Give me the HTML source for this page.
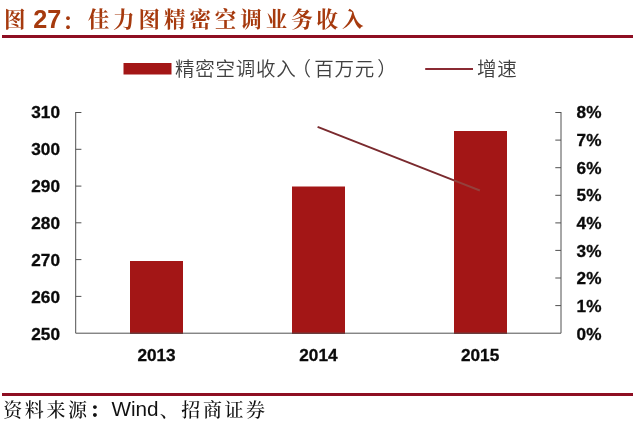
<!DOCTYPE html>
<html lang="zh-CN">
<head>
<meta charset="utf-8">
<title>图 27：佳力图精密空调业务收入</title>
<style>
html,body{margin:0;padding:0;background:#fff;}
body{width:640px;height:421px;position:relative;overflow:hidden;font-family:"Liberation Sans","Noto Sans CJK SC",sans-serif;}
.abs{position:absolute;white-space:nowrap;line-height:1;}
.title{font-family:"Liberation Sans","Noto Serif CJK SC",serif;font-weight:bold;font-size:21.5px;color:#a63a0e;letter-spacing:3.94px;}
.title.n{letter-spacing:0;font-size:25.2px;}
.hr{position:absolute;left:2.2px;width:630.7px;height:2.4px;background:#8e0e22;}
.src{font-family:"Liberation Sans","Noto Serif CJK SC",serif;font-size:19px;letter-spacing:2.6px;color:#111;font-weight:500;}
.src.w{font-size:20.7px;letter-spacing:0;font-weight:400;}
.leg{font-size:19.5px;letter-spacing:0.75px;color:#404040;font-weight:350;}
.yl{-webkit-text-stroke:0.3px #0a0a0a;font-weight:bold;font-size:17.2px;color:#0a0a0a;text-align:right;width:50px;}
.yr{-webkit-text-stroke:0.3px #0a0a0a;font-weight:bold;font-size:17.2px;color:#0a0a0a;}
.xl{-webkit-text-stroke:0.3px #0a0a0a;font-weight:bold;font-size:17.2px;color:#0a0a0a;width:60px;text-align:center;}
svg{position:absolute;left:0;top:0;}
</style>
</head>
<body>
<div class="abs title" style="left:4.1px;top:10px">图</div>
<div class="abs title n" style="left:33.3px;top:7px">27</div>
<div class="abs title" style="left:62.2px;top:10px"><span style="position:relative;top:2px">：</span>佳力图精密空调业务收入</div>
<div class="hr" style="top:35.4px;height:2.2px"></div>

<svg width="640" height="421" viewBox="0 0 640 421">
  <!-- legend -->
  <rect x="123.5" y="63" width="48" height="11.5" fill="#a31616"/>
  <line x1="425.2" y1="68.9" x2="473" y2="68.9" stroke="#8a2a33" stroke-width="2"/>
  <!-- bars -->
  <rect x="130" y="261" width="53" height="73" fill="#a31616"/>
  <rect x="292" y="186.5" width="53" height="147.5" fill="#a31616"/>
  <rect x="454" y="131" width="53" height="203" fill="#a31616"/>
  <!-- axes -->
  <g stroke="#505050" stroke-width="1" fill="none">
    <path d="M75.7 112 V333.2 H561 V112"/>
    <path d="M75.7 112.5H81.4M75.7 149.3H81.4M75.7 186.1H81.4M75.7 222.8H81.4M75.7 259.6H81.4M75.7 296.4H81.4"/>
    <path d="M561 112.5H555.3M561 140.1H555.3M561 167.7H555.3M561 195.3H555.3M561 222.9H555.3M561 250.4H555.3M561 278.0H555.3M561 305.6H555.3"/>
  </g>
  <line x1="317.6" y1="126.9" x2="454" y2="180.35" stroke="#7a2a2e" stroke-width="2"/>
  <line x1="454" y1="180.35" x2="479.9" y2="190.5" stroke="#94403c" stroke-width="2"/>
</svg>

<div class="abs leg" style="left:175px;top:60px">精密空调收入<span style="margin-left:-5px;margin-right:2.5px">（</span>百万元<span style="margin-left:2.3px">）</span></div>
<div class="abs leg" style="left:477px;top:60px">增速</div>

<div class="abs yl" style="left:10px;top:104.3px">310</div>
<div class="abs yl" style="left:10px;top:141.2px">300</div>
<div class="abs yl" style="left:10px;top:178.1px">290</div>
<div class="abs yl" style="left:10px;top:215.0px">280</div>
<div class="abs yl" style="left:10px;top:251.9px">270</div>
<div class="abs yl" style="left:10px;top:288.8px">260</div>
<div class="abs yl" style="left:10px;top:325.7px">250</div>

<div class="abs yr" style="left:576.6px;top:104.3px">8%</div>
<div class="abs yr" style="left:576.6px;top:131.9px">7%</div>
<div class="abs yr" style="left:576.6px;top:159.6px">6%</div>
<div class="abs yr" style="left:576.6px;top:187.2px">5%</div>
<div class="abs yr" style="left:576.6px;top:214.9px">4%</div>
<div class="abs yr" style="left:576.6px;top:242.6px">3%</div>
<div class="abs yr" style="left:576.6px;top:270.2px">2%</div>
<div class="abs yr" style="left:576.6px;top:297.8px">1%</div>
<div class="abs yr" style="left:576.6px;top:325.5px">0%</div>

<div class="abs xl" style="left:126.5px;top:347.3px">2013</div>
<div class="abs xl" style="left:288.4px;top:347.3px">2014</div>
<div class="abs xl" style="left:450.1px;top:347.3px">2015</div>

<div class="hr" style="top:393.2px;height:2.8px"></div>
<div class="abs src" style="left:3.2px;top:401.3px">资料来源<span style="font-weight:900">：</span></div>
<div class="abs src w" style="left:111.4px;top:398.8px">Wind</div>
<div class="abs src" style="left:159.7px;top:401.3px">、招商证券</div>
</body>
</html>
